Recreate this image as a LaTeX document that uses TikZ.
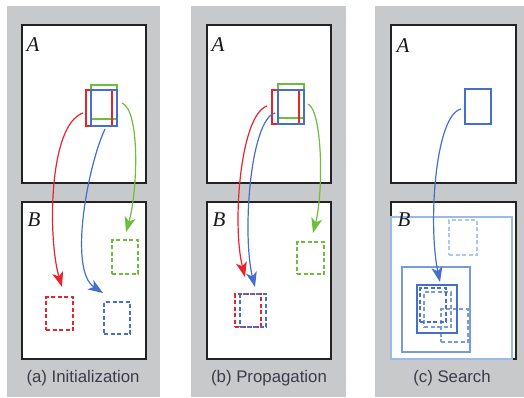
\documentclass[tikz,border=0pt]{standalone}
\usepackage{fontspec}
\newfontfamily\capfont{Liberation Sans}
\newfontfamily\lblfont{Liberation Serif}
\usetikzlibrary{fit,arrows.meta}
\definecolor{panelgray}{RGB}{200,201,203}
\definecolor{framecol}{RGB}{35,35,35}
\definecolor{myred}{RGB}{232,35,45}
\definecolor{mygreen}{RGB}{110,190,60}
\definecolor{myblue}{RGB}{70,110,205}
\definecolor{bluemid}{RGB}{120,155,220}
\definecolor{bluelight}{RGB}{155,185,235}
\definecolor{bluepale}{RGB}{175,198,238}
\definecolor{capcol}{RGB}{60,60,72}
\begin{document}
\begin{tikzpicture}[x=1pt,y=-1pt,
  panel/.style={fill=panelgray,draw=none,inner sep=0pt},
  frame/.style={draw=framecol,fill=white,line width=2.6pt,inner sep=0pt},
  patch/.style={draw=#1,line width=2pt,inner sep=0pt},
  dpatch/.style={draw=#1,line width=1.7pt,dash pattern=on 4pt off 2.5pt,inner sep=0pt},
  curve/.style={draw=#1,line width=1.2pt,-{Stealth[length=15pt,width=11pt,inset=4pt]}},
  lbl/.style={inner sep=0pt,text=black!90,font=\lblfont\itshape\fontsize{21}{21}\selectfont},
  captext/.style={inner sep=0pt,text=capcol,font=\capfont\fontsize{16.8}{17}\selectfont}]
\useasboundingbox (0,0) rectangle (524,397);
% ---------- panel (a)
\node[panel,fit={(7,6) (160,397)}] (pa) {};
\node[frame,fit={(22,25) (146,183)}] (aA) {};
\node[frame,fit={(22,202) (146,359)}] (aB) {};
\node[lbl] (aAl) at (33,45) {A};
\node[lbl] (aBl) at (34,220) {B};
\node[patch=mygreen,fit={(91,85) (117,119)}] (aG) {};
\node[patch=myred,fit={(86,90) (112,126)}] (aR) {};
\node[patch=myblue,fit={(91,90) (117,126)}] (aBl2) {};
\node[dpatch=myred,fit={(46,297) (73,330)}] (aRt) {};
\node[dpatch=myblue,fit={(104,302) (130,334)}] (aBt) {};
\node[dpatch=mygreen,fit={(112,240) (138,274)}] (aGt) {};
\coordinate (aRs) at (83,113); \coordinate (aRe) at (62,287);
\coordinate (aBs) at (105,129); \coordinate (aBe) at (103,293);
\coordinate (aGs) at (122,103); \coordinate (aGe) at (126,232);
\draw[curve=myred] (aRs) .. controls (48,125) and (48,240) .. (aRe);
\draw[curve=myblue] (aBs) .. controls (88,165) and (68,270) .. (aBe);
\draw[curve=mygreen] (aGs) .. controls (140,110) and (138,190) .. (aGe);
\node[captext] (capa) at (83,378) {(a) Initialization};
% ---------- panel (b)
\node[panel,fit={(191,6) (346,397)}] (pb) {};
\node[frame,fit={(207,25) (331,183)}] (bA) {};
\node[frame,fit={(207,202) (331,359)}] (bB) {};
\node[lbl] (bAl) at (218,45) {A};
\node[lbl] (bBl) at (219,220) {B};
\node[patch=mygreen,fit={(278,84) (304,118)}] (bG) {};
\node[patch=myred,fit={(272,90) (299,124)}] (bR) {};
\node[patch=myblue,fit={(278,90) (304,124)}] (bBs2) {};
\node[dpatch=mygreen,fit={(297,242) (324,274)}] (bGt) {};
\node[dpatch=myred,fit={(235,294) (261,327)}] (bRt) {};
\node[dpatch=myblue,fit={(240,294) (266,327)}] (bBt) {};
\coordinate (bRs) at (267,106); \coordinate (bRe) at (245,277);
\coordinate (bBs) at (275,113); \coordinate (bBe) at (255,287);
\coordinate (bGs) at (308,104); \coordinate (bGe) at (313,233);
\draw[curve=myred] (bRs) .. controls (240,115) and (232,225) .. (bRe);
\draw[curve=myblue] (bBs) .. controls (250,120) and (242,235) .. (bBe);
\draw[curve=mygreen] (bGs) .. controls (322,110) and (324,190) .. (bGe);
\node[captext] (capb) at (269,378) {(b) Propagation};
% ---------- panel (c)
\node[panel,fit={(375,6) (530,397)}] (pc) {};
\node[frame,fit={(391,25) (516,183)}] (cA) {};
\node[frame,fit={(391,202) (516,359)}] (cB) {};
\node[lbl] (cAl) at (403,46) {A};
\node[patch=myblue,fit={(465,89) (491,124)}] (cBs) {};
\node[patch=bluelight,fit={(391,217) (512,359)}] (cW1) {};
\node[lbl] (cBl) at (404,220) {B};
\node[dpatch=bluepale,fit={(449,220) (477,255)}] (cT0) {};
\node[patch=bluemid,fit={(402,267) (470,352)}] (cW2) {};
\node[dpatch=bluemid,fit={(441,309) (468,342)}] (cT3) {};
\node[patch=myblue,line width=2.4pt,fit={(417,285) (457,333)}] (cW3) {};
\node[dpatch=bluemid,fit={(424,292) (451,327)}] (cT2) {};
\node[dpatch=myblue,fit={(420,288) (446,322)}] (cT1) {};
\coordinate (cs) at (461,109); \coordinate (ce) at (440,282);
\draw[curve=myblue] (cs) .. controls (435,115) and (428,225) .. (ce);
\node[captext] (capc) at (452,378) {(c) Search};
\end{tikzpicture}
\end{document}
